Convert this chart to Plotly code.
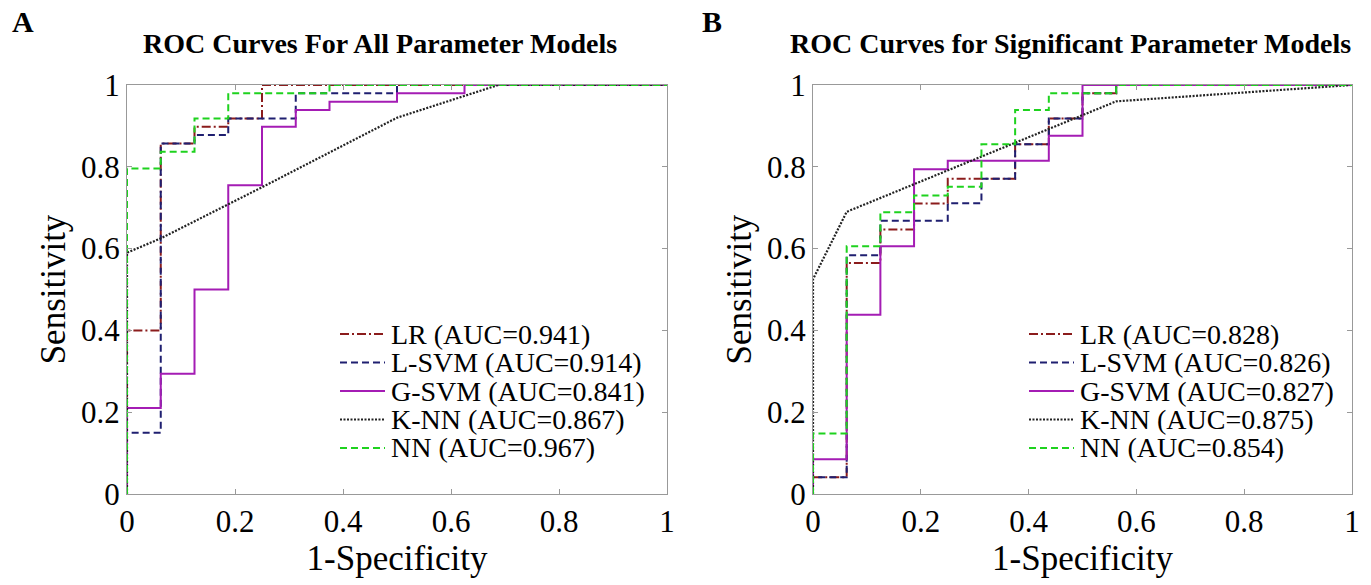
import plotly.graph_objects as go

# ---------------- data (ROC operating points) ----------------
# Panel A: all parameter models
A_LR_fpr = [0, 0, 0.0625, 0.125, 0.1875, 0.25, 1]
A_LR_tpr = [0, 0.40, 0.857, 0.898, 0.918, 1.0, 1.0]
A_LSVM_fpr = [0, 0, 0.0625, 0.125, 0.1875, 0.3125, 0.5, 1]
A_LSVM_tpr = [0, 0.15, 0.857, 0.878, 0.918, 0.980, 1.0, 1.0]
A_GSVM_fpr = [0, 0, 0.0625, 0.125, 0.1875, 0.25, 0.3125, 0.375, 0.5, 0.625, 1]
A_GSVM_tpr = [0, 0.21, 0.294, 0.50, 0.755, 0.898, 0.939, 0.959, 0.980, 1.0, 1.0]
A_KNN_fpr = [0, 0, 0.0625, 0.25, 0.5, 0.6875, 1]
A_KNN_tpr = [0, 0.59, 0.625, 0.75, 0.92, 1.0, 1.0]
A_NN_fpr = [0, 0, 0.0625, 0.125, 0.1875, 0.375, 1]
A_NN_tpr = [0, 0.796, 0.837, 0.918, 0.980, 1.0, 1.0]

# Panel B: significant parameter models
B_LR_fpr = [0, 0, 0.0625, 0.125, 0.1875, 0.25, 0.375, 0.4375, 0.5, 0.5625, 1]
B_LR_tpr = [0, 0.041, 0.565, 0.647, 0.710, 0.771, 0.855, 0.918, 0.980, 1.0, 1.0]
B_LSVM_fpr = [0, 0, 0.0625, 0.125, 0.25, 0.3125, 0.375, 0.4375, 0.5, 0.5625, 1]
B_LSVM_tpr = [0, 0.041, 0.584, 0.668, 0.711, 0.771, 0.855, 0.918, 0.980, 1.0, 1.0]
B_GSVM_fpr = [0, 0, 0.0625, 0.125, 0.1875, 0.25, 0.4375, 0.5, 1]
B_GSVM_tpr = [0, 0.085, 0.438, 0.606, 0.794, 0.815, 0.876, 1.0, 1.0]
B_KNN_fpr = [0, 0, 0.0625, 0.5625, 1]
B_KNN_tpr = [0, 0.525, 0.69, 0.96, 1.0]
B_NN_fpr = [0, 0, 0.0625, 0.125, 0.1875, 0.25, 0.3125, 0.375, 0.4375, 0.5625, 1]
B_NN_tpr = [0, 0.148, 0.606, 0.689, 0.730, 0.751, 0.855, 0.939, 0.980, 1.0, 1.0]

A_names = ["LR (AUC=0.941)", "L-SVM (AUC=0.914)", "G-SVM (AUC=0.841)",
           "K-NN (AUC=0.867)", "NN (AUC=0.967)"]
B_names = ["LR (AUC=0.828)", "L-SVM (AUC=0.826)", "G-SVM (AUC=0.827)",
           "K-NN (AUC=0.875)", "NN (AUC=0.854)"]
titles = ["ROC Curves For All Parameter Models", "ROC Curves for Significant Parameter Models"]
tick_vals = [0, 0.2, 0.4, 0.6, 0.8, 1]
tick_text = ["0", "0.2", "0.4", "0.6", "0.8", "1"]

# ---------------- styles ----------------
styles = [
    dict(color="#8b1c1c", dash="9px,3px,2px,3px", width=2, shape="hv"),
    dict(color="#1f1f70", dash="7px,4px", width=2, shape="hv"),
    dict(color="#a41cb4", dash="solid", width=2, shape="hv"),
    dict(color="#222222", dash="2px,1.5px", width=2.2, shape="linear"),
    dict(color="#1ed21e", dash="7px,4px", width=2, shape="hv"),
]
FONT = "Liberation Serif, Times New Roman, serif"
W, H = 1371, 585

fig = go.Figure()
panels = [
    ([A_LR_fpr, A_LSVM_fpr, A_GSVM_fpr, A_KNN_fpr, A_NN_fpr],
     [A_LR_tpr, A_LSVM_tpr, A_GSVM_tpr, A_KNN_tpr, A_NN_tpr], A_names, "x", "y"),
    ([B_LR_fpr, B_LSVM_fpr, B_GSVM_fpr, B_KNN_fpr, B_NN_fpr],
     [B_LR_tpr, B_LSVM_tpr, B_GSVM_tpr, B_KNN_tpr, B_NN_tpr], B_names, "x2", "y2"),
]
for xs, ys, names, xa, ya in panels:
    for x, y, n, st in zip(xs, ys, names, styles):
        fig.add_trace(go.Scatter(
            x=x, y=y, name=n, mode="lines", xaxis=xa, yaxis=ya, showlegend=False,
            line=dict(color=st["color"], dash=st["dash"], width=st["width"], shape=st["shape"]),
            cliponaxis=False,
        ))

ydom = [(H - 494) / H, (H - 85) / H]
xdomA = [127 / W, 667 / W]
xdomB = [813 / W, 1352 / W]

axis_common = dict(
    range=[0, 1], tickvals=tick_vals, ticktext=tick_text, ticks="inside", ticklen=5,
    tickcolor="#999999", showline=True, linecolor="#999999", linewidth=1.3, mirror="ticks",
    showgrid=False, zeroline=False, automargin=False,
    tickfont=dict(family=FONT, size=31, color="black"),
)
xt = dict(text="1-Specificity", font=dict(family=FONT, size=35), standoff=0)
yt = dict(text="Sensitivity", font=dict(family=FONT, size=35), standoff=4)

fig.update_layout(
    width=W, height=H, margin=dict(l=0, r=0, t=0, b=0),
    paper_bgcolor="white", plot_bgcolor="white",
    font=dict(family=FONT, color="black"),
    xaxis=dict(domain=xdomA, anchor="y", title=xt, **axis_common),
    yaxis=dict(domain=ydom, anchor="x", title=yt, **axis_common),
    xaxis2=dict(domain=xdomB, anchor="y2", title=xt, **axis_common),
    yaxis2=dict(domain=ydom, anchor="x2", title=yt, **axis_common),
    showlegend=False,
)

# ---------------- legends (MATLAB-style, tight rows) ----------------
row_y = [334, 362.5, 391, 419.5, 448]
for names, x0 in [(A_names, 340), (B_names, 1029)]:
    for n, st, ry in zip(names, styles, row_y):
        fig.add_shape(type="line", xref="paper", yref="paper",
                      x0=x0 / W, x1=(x0 + 45) / W, y0=(H - ry) / H, y1=(H - ry) / H,
                      line=dict(color=st["color"], dash=st["dash"], width=st["width"]))
        fig.add_annotation(xref="paper", yref="paper", x=(x0 + 49) / W, y=(H - ry) / H, text=n,
                           showarrow=False, xanchor="left", yanchor="middle",
                           font=dict(family=FONT, size=28, color="black"))

annos = [("<b>A</b>", 10, 22), ("<b>B</b>", 700, 22)]
for t, ax, ay in annos:
    fig.add_annotation(xref="paper", yref="paper", x=ax / W, y=(H - ay) / H, text=t,
                       showarrow=False, xanchor="left", yanchor="middle",
                       font=dict(family=FONT, size=30, color="black"))
for t, cx in zip(titles, [380, 1070]):
    fig.add_annotation(xref="paper", yref="paper", x=cx / W, y=(H - 44) / H, text="<b>" + t + "</b>",
                       showarrow=False, xanchor="center", yanchor="middle",
                       font=dict(family=FONT, size=28, color="black"))

fig.write_html("out.html", config={"displayModeBar": False},
               post_script="document.body.style.margin='0';document.body.style.overflow='hidden';")
